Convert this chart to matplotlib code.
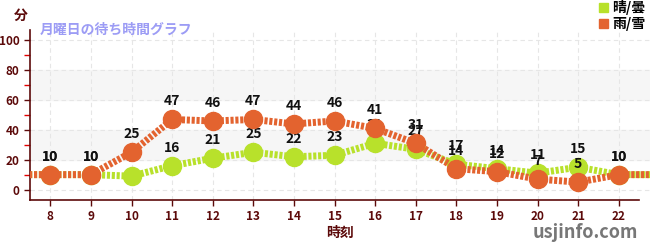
import numpy as np
import matplotlib.pyplot as plt
from matplotlib.patches import Patch

plt.rcParams['font.family'] = ['Noto Sans CJK JP', 'DejaVu Sans']

hours = [8, 9, 10, 11, 12, 13, 14, 15, 16, 17, 18, 19, 20, 21, 22]
sunny = [10, 10, 9, 16, 21, 25, 22, 23, 31, 27, 17, 14, 11, 15, 10]
rainy = [10, 10, 25, 47, 46, 47, 44, 46, 41, 31, 14, 12, 7, 5, 10]
series = [('晴/曇', sunny, '#b8e12b'), ('雨/雪', rainy, '#e3632f')]

axis_col = '#5c0a0a'

fig = plt.figure(figsize=(6.5, 2.5), dpi=100)
ax = fig.add_axes([30 / 650, 0.2, 620 / 650, 0.68])

ax.axhspan(20, 40, color='#f6f6f6', zorder=0)
ax.axhspan(60, 80, color='#f6f6f6', zorder=0)
for y in range(0, 101, 20):
    ax.axhline(y, color='#e6e6e6', lw=0.8, ls=(0, (4, 3)), zorder=1)
for h in hours:
    ax.axvline(h, color='#e6e6e6', lw=0.8, ls=(0, (4, 3)), zorder=1)

x_ext = np.r_[hours[0] - 1, hours, hours[-1] + 1]
handles = []
for i, (name, vals, col) in enumerate(series):
    z = 2 + 3 * i
    v_ext = np.pad(vals, 1, mode='edge')
    ax.plot(x_ext, v_ext, color=col, lw=5, ls=(0, (0.45, 0.25)),
            dash_capstyle='butt', zorder=z)
    ax.plot(hours, vals, 'o', color=col, ms=13, zorder=z + 1)
    for h, v in zip(hours, vals):
        ax.annotate(str(v), (h, v), xytext=(0, 8), textcoords='offset points',
                    ha='center', va='bottom', fontsize=10, fontweight='bold',
                    color='#111111', zorder=z + 2)
    handles.append(Patch(color=col, label=name))

ax.set_xlim(7.5, 22.77)
ax.set_ylim(-7, 107)
ax.set_xticks(hours)
ax.set_yticks(range(0, 101, 20))
ax.set_yticks(range(10, 101, 20), minor=True)
ax.tick_params(axis='both', colors=axis_col, labelsize=8.5, length=4, width=1)
ax.tick_params(axis='y', which='minor', colors='#e00000', length=4, width=1)
for lab in ax.get_xticklabels() + ax.get_yticklabels():
    lab.set_fontweight('bold')
for s in ['top', 'right']:
    ax.spines[s].set_visible(False)
for s in ['left', 'bottom']:
    ax.spines[s].set_color(axis_col)
    ax.spines[s].set_linewidth(1.2)
ax.spines['bottom'].set_bounds(7.5, 22.5)

ax.set_xlabel('時刻', fontsize=10, fontweight='bold', color=axis_col, labelpad=2)
fig.text(14 / 650, 1 - 16 / 250, '分', fontsize=10, fontweight='bold',
         color=axis_col, ha='left', va='center')
fig.text(40 / 650, 1 - 30 / 250, '月曜日の待ち時間グラフ', fontsize=10,
         fontweight='bold', color='#9c9cf5', ha='left', va='center')

fig.legend(handles=handles, loc='upper right', bbox_to_anchor=(645 / 650, 1.0),
           frameon=False, handlelength=0.6, handleheight=0.6,
           handletextpad=0.3, labelspacing=0.15, borderaxespad=0,
           borderpad=0, prop={'weight': 'bold', 'size': 10})

fig.text(638 / 650, 1 - 232 / 250, 'usjinfo.com', fontsize=13, fontweight='bold',
         color='#777777', ha='right', va='center')

fig.savefig('out.png', dpi=100)
